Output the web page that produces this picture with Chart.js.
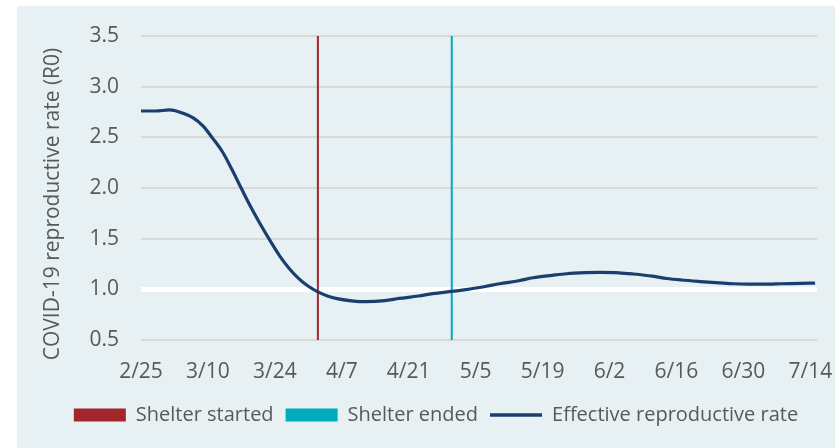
<!DOCTYPE html>
<html>
<head>
<meta charset="utf-8">
<script src="https://cdn.jsdelivr.net/npm/chart.js@4/dist/chart.umd.min.js"></script>
<style>
  html, body { margin: 0; padding: 0; background: #ffffff; }
  #panel { position: absolute; left: 17px; top: 6px; width: 818px; height: 442px; background: #e7f0f3; }
</style>
</head>
<body>
<div id="panel"><canvas id="r0-chart" width="818" height="442"></canvas></div>
<script>
// days since 2/25/2020 and the effective reproductive rate
const days = [0, 3, 6, 8, 11, 13, 15, 17, 19, 21, 23, 25, 27, 29, 31, 33, 35, 37, 39, 41,
  44, 47, 51, 54, 58, 61, 65, 68, 72, 75, 79, 82, 86, 89, 93, 96, 100, 103, 107, 110,
  113, 117, 121, 124, 127, 131, 134, 138, 141];
const rValues = [2.76, 2.76, 2.77, 2.75, 2.69, 2.61, 2.49, 2.36, 2.185, 1.995, 1.81, 1.64, 1.48, 1.33, 1.205, 1.105, 1.03, 0.975, 0.935, 0.908,
  0.887, 0.878, 0.888, 0.91, 0.934, 0.957, 0.98, 0.997, 1.028, 1.055, 1.085, 1.114, 1.138, 1.154, 1.164, 1.167, 1.163, 1.151, 1.13, 1.107,
  1.092, 1.077, 1.064, 1.055, 1.052, 1.052, 1.055, 1.058, 1.062];

const shelterStartDay = 37;
const shelterEndDay = 65;

const xTickDays = [0, 14, 28, 42, 56, 70, 84, 98, 112, 126, 140];
const xTickLabels = ['2/25', '3/10', '3/24', '4/7', '4/21', '5/5', '5/19', '6/2', '6/16', '6/30', '7/14'];

const seriesLabels = ['Effective reproductive rate', 'Shelter started', 'Shelter ended'];
const seriesColors = ['#1a3f6e', '#a3262c', '#00acba'];

const yMin = 0.5, yMax = 3.5;
const tickColor = '#595959';
const font = 'Open Sans';

// y axis title drawn by hand so it sits where the original has it
const yTitlePlugin = {
  id: 'yTitle',
  afterDraw(chart) {
    const ctx = chart.ctx;
    ctx.save();
    ctx.translate(36, 198);
    ctx.rotate(-Math.PI / 2);
    ctx.font = '21px "' + font + '"';
    ctx.fillStyle = tickColor;
    ctx.textAlign = 'center';
    ctx.textBaseline = 'middle';
    ctx.fillText('COVID-19 reproductive rate (R0)', 0, 0);
    ctx.restore();
  }
};

new Chart(document.getElementById('r0-chart'), {
  type: 'line',
  data: {
    datasets: [
      {
        label: seriesLabels[0],
        data: days.map((d, i) => ({ x: d, y: rValues[i] })),
        borderColor: seriesColors[0],
        borderWidth: 3.2,
        pointRadius: 0,
        cubicInterpolationMode: 'monotone',
        fill: false
      },
      {
        label: seriesLabels[1],
        data: [{ x: shelterStartDay, y: yMin }, { x: shelterStartDay, y: yMax }],
        borderColor: seriesColors[1],
        borderWidth: 2,
        pointRadius: 0,
        fill: false
      },
      {
        label: seriesLabels[2],
        data: [{ x: shelterEndDay, y: yMin }, { x: shelterEndDay, y: yMax }],
        borderColor: seriesColors[2],
        borderWidth: 2,
        pointRadius: 0,
        fill: false
      }
    ]
  },
  options: {
    responsive: false,
    animation: false,
    layout: { padding: { left: 38, right: 18, top: 30, bottom: 13 } },
    plugins: {
      tooltip: { enabled: false },
      legend: {
        position: 'bottom',
        labels: {
          usePointStyle: true,
          pointStyleWidth: 52,
          boxHeight: 13,
          padding: 12,
          color: tickColor,
          font: { family: font, size: 20 },
          generateLabels: chart => [1, 2, 0].map(i => ({
            text: chart.data.datasets[i].label,
            fillStyle: seriesColors[i],
            strokeStyle: seriesColors[i],
            lineWidth: i === 0 ? 3.5 : 0,
            pointStyle: i === 0 ? 'line' : 'rect',
            fontColor: tickColor,
            hidden: false,
            datasetIndex: i
          }))
        }
      }
    },
    scales: {
      x: {
        type: 'linear',
        min: 0,
        max: 141.4,
        grid: { display: false, drawTicks: false },
        border: { display: false },
        afterBuildTicks: scale => { scale.ticks = xTickDays.map(v => ({ value: v })); },
        afterFit: scale => { scale.height = 53; scale.paddingLeft = 0; scale.paddingRight = 0; },
        ticks: {
          color: tickColor,
          font: { family: font, size: 21 },
          padding: 19,
          maxRotation: 0,
          autoSkip: false,
          callback: (v) => xTickLabels[xTickDays.indexOf(v)]
        }
      },
      y: {
        min: yMin,
        max: yMax,
        afterFit: scale => { scale.width = 86; scale.paddingTop = 0; scale.paddingBottom = 0; },
        border: { display: false },
        grid: {
          drawTicks: false,
          color: c => c.tick && c.tick.value === 1 ? '#ffffff' : '#d9d9d9',
          lineWidth: c => c.tick && c.tick.value === 1 ? 5 : 2
        },
        ticks: {
          stepSize: 0.5,
          color: tickColor,
          font: { family: font, size: 21 },
          padding: 22,
          callback: v => v.toFixed(1)
        }
      }
    }
  },
  plugins: [yTitlePlugin]
});
</script>
</body>
</html>
